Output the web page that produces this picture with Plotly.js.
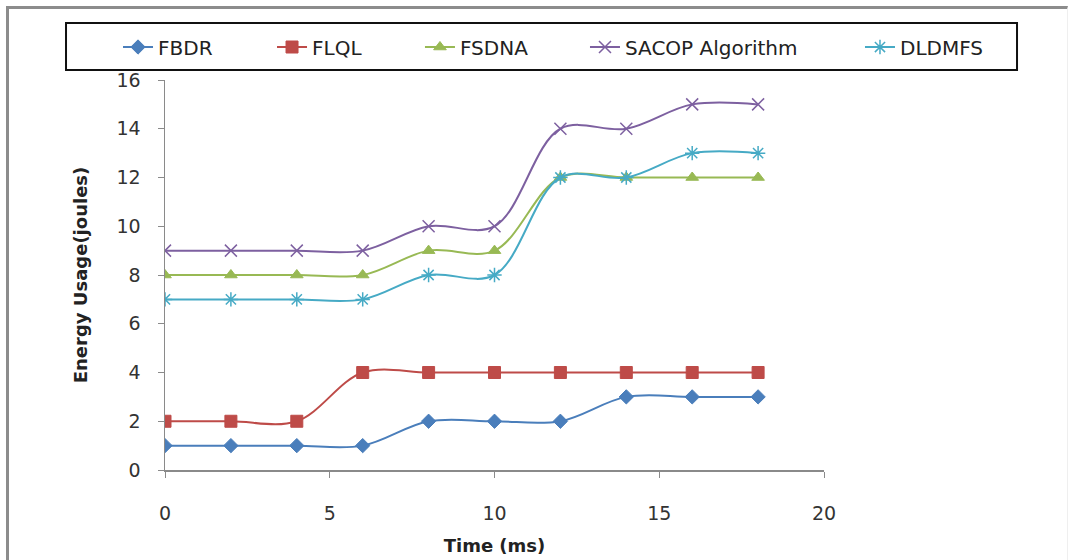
<!DOCTYPE html>
<html><head><meta charset="utf-8">
<script src="https://cdn.plot.ly/plotly-3.0.1.min.js"></script>
<style>
html,body{margin:0;padding:0;background:#fff;}
#wrap{position:relative;width:1069px;height:560px;}
#chart{width:1069px;height:560px;}
#frame{position:absolute;left:6px;top:6px;width:1058px;height:560px;border-top:3px solid #8c8c8c;border-left:3px solid #8c8c8c;border-right:1px solid #efefef;pointer-events:none;}
</style></head>
<body>
<div id="wrap"><div id="chart"></div><div id="frame"></div></div>
<script>
const time = [0, 2, 4, 6, 8, 10, 12, 14, 16, 18];
const fbdr = [1, 1, 1, 1, 2, 2, 2, 3, 3, 3];
const flql = [2, 2, 2, 4, 4, 4, 4, 4, 4, 4];
const fsdna = [8, 8, 8, 8, 9, 9, 12, 12, 12, 12];
const sacop = [9, 9, 9, 9, 10, 10, 14, 14, 15, 15];
const dldmfs = [7, 7, 7, 7, 8, 8, 12, 12, 13, 13];
const seriesNames = ["FBDR", "FLQL", "FSDNA", "SACOP Algorithm", "DLDMFS"];
const xTicks = [0, 5, 10, 15, 20];
const yTicks = [0, 2, 4, 6, 8, 10, 12, 14, 16];

const styles = [
  {color: "#4A7EBB", symbol: "diamond", size: 11, lw: 1},
  {color: "#BE4B48", symbol: "square", size: 12, lw: 1},
  {color: "#98B954", symbol: "triangle-up", size: 11, lw: 1},
  {color: "#7D60A0", symbol: "x-thin-open", size: 12, lw: 1.5},
  {color: "#46AAC5", symbol: "asterisk-open", size: 12, lw: 1.5}
];
const legendX = [-0.0713, 0.1624, 0.3869, 0.6373, 1.0546];
const legendIds = ["legend", "legend2", "legend3", "legend4", "legend5"];
const allY = [fbdr, flql, fsdna, sacop, dldmfs];
const traces = allY.map((ys, i) => ({
  x: time, y: ys, name: seriesNames[i], type: "scatter", mode: "lines+markers",
  legend: legendIds[i],
  line: {color: styles[i].color, width: 2, shape: "spline", smoothing: 1},
  marker: {symbol: styles[i].symbol, size: styles[i].size, color: styles[i].color,
           line: {color: styles[i].color, width: styles[i].lw}}
}));

const fnt = "DejaVu Sans, sans-serif";
const layout = {
  width: 1069, height: 560,
  margin: {l: 165, r: 245, t: 80, b: 90},
  paper_bgcolor: "#fff", plot_bgcolor: "#fff",
  font: {family: fnt, color: "#333", size: 18},
  showlegend: true,
  xaxis: {range: [0, 20], tickvals: xTicks, ticktext: xTicks.map(String), showgrid: false, zeroline: false,
          showline: true, linecolor: "#8a8a8a", linewidth: 1.5, ticks: "outside", ticklen: 6,
          tickcolor: "#8a8a8a", tickfont: {size: 19, color: "#333"}, ticklabelstandoff: 20,
          title: {text: "<b>Time (ms)</b>", font: {size: 18, color: "#222"}, standoff: 16}},
  yaxis: {range: [0, 16], tickvals: yTicks, ticktext: yTicks.map(String), showgrid: false, zeroline: false,
          showline: true, linecolor: "#8a8a8a", linewidth: 1.5, ticks: "outside", ticklen: 6,
          tickcolor: "#8a8a8a", tickfont: {size: 19, color: "#333"}, ticklabelstandoff: 13,
          title: {text: "<b>Energy Usage(joules)</b>", font: {size: 18, color: "#222"}, standoff: 24}},
  shapes: [{type: "rect", xref: "paper", yref: "paper", x0: -0.1502, x1: 1.2929, y0: 1.0256, y1: 1.1462,
            line: {color: "#111", width: 2}, fillcolor: "rgba(0,0,0,0)"}]
};
legendIds.forEach((id, i) => {
  layout[id] = {orientation: "h", x: legendX[i], xanchor: "left", y: 1.0846, yanchor: "middle",
                font: {family: fnt, size: 20, color: "#222"}, borderwidth: 0, bgcolor: "rgba(0,0,0,0)"};
});
Plotly.newPlot("chart", traces, layout, {displayModeBar: false, staticPlot: true});
</script>
</body></html>
